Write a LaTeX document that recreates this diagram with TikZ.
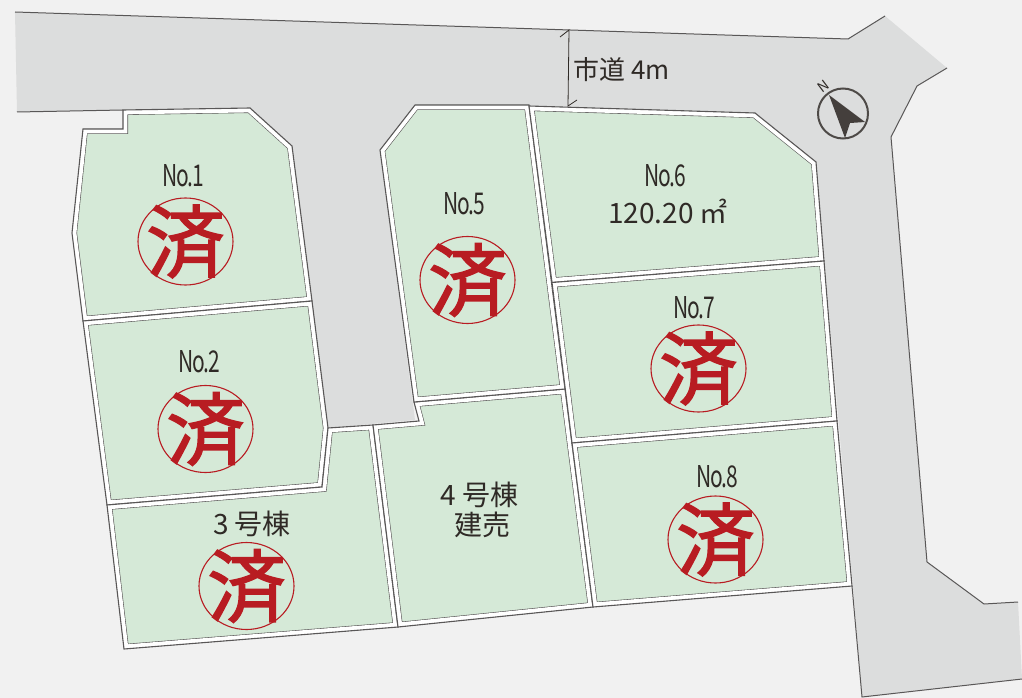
\documentclass[tikz,border=0pt]{standalone}
\usepackage{fontspec}
\setmainfont{Noto Sans CJK JP}
\newfontfamily\stampfont[FakeBold=1.6]{Noto Sans CJK JP}
\definecolor{paper}{HTML}{F1F1F1}
\definecolor{roadc}{HTML}{DCDDDD}
\definecolor{lotc}{HTML}{D5E9D7}
\definecolor{edgec}{HTML}{595757}
\definecolor{inkc}{HTML}{2F2A26}
\definecolor{stampc}{HTML}{B81C22}
\newcommand\lot[1]{%
  \begin{scope}
    \clip #1 -- cycle;
    \fill[lotc] #1 -- cycle;
    \draw[edgec,line width=10pt] #1 -- cycle;
    \draw[white,line width=8.8pt] #1 -- cycle;
  \end{scope}
  \draw[lotline] #1 -- cycle;}
\newcommand\stamp[3]{%
  \node[stampring] (#1r) at (#2,#3) {};
  \node[stampglyph] (#1g) at (#2,#3) {済};}
\newcommand\lotname[4]{\node[lotlabel] (#1) at (#2,#3) {\scalebox{0.7}[1]{N\kern-1.5pt o\kern-2.5pt .\kern-1pt #4}};}
\tikzset{
  x=1pt,y=-1pt,
  lotline/.style={draw=edgec,line width=1.1pt,line join=miter},
  roadline/.style={draw=edgec,line width=1pt},
  stampring/.style={draw=stampc,line width=1.1pt,ellipse,minimum width=95pt,minimum height=87pt,inner sep=0pt},
  stampglyph/.style={text=stampc,font=\stampfont\fontsize{79}{79}\selectfont,inner sep=0pt},
  lotlabel/.style={text=inkc,font=\fontsize{30}{30}\selectfont,inner sep=0pt},
  cjklabel/.style={text=inkc,font=\fontsize{28}{28}\selectfont,inner sep=0pt},
}
\usetikzlibrary{shapes.geometric}
\begin{document}
\begin{tikzpicture}
\useasboundingbox (0,0) rectangle (1022,698);
\fill[paper] (0,0) rectangle (1022,698);
% road
\fill[roadc] (15,12) -- (848,39) -- (885,16) -- (947,68) -- (917,86) -- (891,137) -- (927,562) -- (984,604) -- (1018,602) -- (1022,679) -- (862,697) -- (853,587) -- (816,162) -- (755,113) -- (415,105) -- (380,150) -- (415,420) -- (328,428) -- (292,146) -- (250,108) -- (17,112) -- cycle;
\draw[roadline] (15,12) -- (848,39) -- (885,16);
\draw[roadline] (947,68) -- (917,86) -- (891,137) -- (927,562) -- (984,604) -- (1018,602);
\draw[roadline] (17,112) -- (123,110);
\draw[roadline] (852,586) -- (862,697) -- (1022,679);
% lots
\lot{(123,110) -- (123,129) -- (83,129) -- (72,233) -- (83,321) -- (312,301) -- (292,146) -- (250,108)}
\lot{(83,321) -- (312,301) -- (328,428) -- (322,487) -- (107,505)}
\lot{(107,505) -- (322,487) -- (328,428) -- (373,425) -- (398,627) -- (124,649)}
\lot{(373,425) -- (419,421) -- (414,402) -- (565,389) -- (593,607) -- (398,627)}
\lot{(415,105) -- (529,105) -- (565,389) -- (414,402) -- (380,150)}
\lot{(529,106) -- (755,113) -- (816,162) -- (824,261) -- (552,282.5)}
\lot{(552,282.5) -- (824,261) -- (837,421) -- (572,443)}
\lot{(572,443) -- (837,421) -- (852,586) -- (593,607)}
% stamps
\stamp{s1}{185.5}{241.5}
\stamp{s2}{205.5}{429}
\stamp{s3}{246.5}{586}
\stamp{s5}{467.5}{280}
\stamp{s7}{698.5}{368.5}
\stamp{s8}{715.5}{539.5}
% labels
\lotname{n1}{183.5}{176}{1}
\lotname{n2}{199}{362}{2}
\lotname{n5}{464}{204}{5}
\lotname{n6}{665.5}{176}{6}
\lotname{n7}{694}{308}{7}
\lotname{n8}{717}{477}{8}
\node[cjklabel] (a6) at (668,211) {120.20 ㎡};
\node[cjklabel] (l3) at (252,524) {3 号棟};
\node[cjklabel] (l4) at (479.5,495) {4 号棟};
\node[cjklabel] (l4b) at (482.5,525) {建売};
\node[cjklabel,font=\fontsize{26}{26}\selectfont] (rd) at (621.5,69.5) {市道 4m};
% width mark
\coordinate (dt) at (569,30);
\coordinate (db) at (568,106);
\draw[draw=inkc,line width=0.8pt] (560,37) -- (dt) -- (db) -- (577,100);
% compass
\node[draw=inkc!85,line width=2pt,circle,minimum size=50pt,inner sep=0pt] (cc) at (843,113.5) {};
\fill[inkc!90] (829,95) -- (865,122) -- (850,123) -- (845,138) -- cycle;
\node[text=inkc,font=\fontsize{14}{14}\selectfont,rotate=37,inner sep=0pt] (cn) at (823,86) {N};
\end{tikzpicture}
\end{document}
